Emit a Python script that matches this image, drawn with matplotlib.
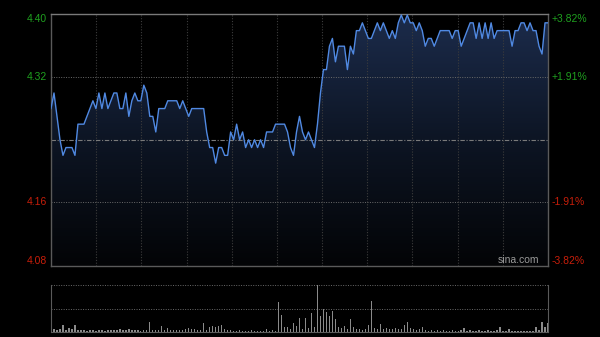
import numpy as np
import matplotlib.pyplot as plt
from matplotlib.colors import LinearSegmentedColormap

# 昨收价与分时数据（单位：分），每个点约两分钟
prev_close = 4.24
price_cents = [
    428, 430, 427, 424, 422, 423, 423, 423, 422, 426,
    426, 426, 427, 428, 429, 428, 430, 428, 430, 428,
    429, 430, 430, 428, 428, 430, 427, 429, 430, 429,
    429, 431, 430, 427, 427, 425, 428, 428, 428, 429,
    429, 429, 429, 428, 429, 428, 427, 428, 428, 428,
    428, 428, 425, 423, 423, 421, 423, 423, 422, 422,
    425, 424, 426, 424, 425, 423, 424, 423, 424, 423,
    424, 423, 425, 425, 425, 426, 426, 426, 426, 425,
    423, 422, 425, 427, 425, 424, 425, 424, 423, 426,
    430, 433, 433, 436, 437, 434, 436, 436, 436, 433,
    436, 435, 438, 438, 439, 438, 437, 437, 438, 439,
    438, 439, 438, 437, 438, 437, 439, 440, 439, 440,
    439, 439, 438, 439, 438, 436, 437, 437, 436, 437,
    438, 438, 438, 438, 437, 438, 438, 436, 437, 438,
    439, 439, 437, 439, 437, 439, 437, 439, 437, 438,
    438, 438, 438, 438, 436, 438, 438, 439, 439, 438,
    439, 438, 438, 436, 435, 439, 439,
]
volume = [
    2, 3, 2, 3, 7, 2, 4, 3, 7, 2,
    2, 2, 1, 2, 2, 1, 2, 2, 1, 2,
    2, 2, 2, 3, 2, 2, 3, 2, 2, 2,
    1, 2, 2, 10, 2, 2, 2, 6, 2, 4,
    2, 2, 2, 2, 2, 3, 4, 3, 3, 2,
    2, 9, 2, 5, 6, 5, 6, 7, 3, 2,
    2, 1, 1, 2, 1, 1, 1, 2, 1, 1,
    1, 1, 3, 1, 2, 1, 30, 17, 5, 5,
    3, 9, 6, 14, 3, 14, 4, 19, 5, 47,
    16, 23, 20, 16, 21, 13, 5, 4, 6, 3,
    13, 5, 3, 3, 2, 3, 7, 31, 4, 3,
    8, 3, 4, 3, 3, 4, 3, 3, 7, 10,
    4, 3, 2, 3, 5, 2, 1, 2, 1, 2,
    1, 2, 1, 1, 2, 1, 1, 2, 4, 1,
    2, 1, 1, 2, 1, 1, 2, 1, 1, 2,
    5, 1, 1, 3, 1, 1, 1, 1, 1, 1,
    1, 1, 5, 2, 10, 5, 9,
]
price_ticks = [4.40, 4.32, 4.16, 4.08]
pct_labels = ['+3.82%', '+1.91%', '-1.91%', '-3.82%']

price = np.array(price_cents) / 100.0
t = np.linspace(0, 330, len(price))
lo, hi = prev_close * (1 - 0.0382), prev_close * (1 + 0.0382)

plt.rcParams['font.family'] = ['Liberation Sans', 'DejaVu Sans']
fig = plt.figure(figsize=(6, 3.37), dpi=100, facecolor='#000000')

# 价格主图
ax = fig.add_axes([51 / 600, 1 - 266 / 337, 497 / 600, 252.5 / 337])
ax.set_facecolor('#000000')
ax.set_xlim(0, 330)
ax.set_ylim(lo, hi)

# 网格线画在填充之上、价格线之下
for m in range(30, 330, 30):
    ax.axvline(m, color='#3c3c3c', lw=0.8, ls=(0, (1, 1.5)), zorder=2.5)
for p in (4.32, 4.16):
    ax.axhline(p, color='#6a6a6a', lw=0.7, ls=(0, (1, 1.5)), zorder=2.5)
ax.axhline(prev_close, color='#7a7a7a', lw=0.8, ls=(0, (4, 1.5, 1, 1.5)), zorder=2.5)

# 渐变填充
cmap = LinearSegmentedColormap.from_list('fill', ['#030406', '#0d1524', '#1c2c4c'])
poly = ax.fill_between(t, price, lo, color='none', lw=0)
grad = np.linspace(0, 1, 256).reshape(-1, 1)
im = ax.imshow(grad, cmap=cmap, aspect='auto', origin='lower',
               extent=[0, 330, lo, hi], zorder=2)
path = poly.get_paths()[0]
im.set_clip_path(path, transform=ax.transData)

ax.plot(t, price, color='#5089e2', lw=1.0, zorder=3)

ax.set_xticks([])
ax.set_yticks([])
for s in ax.spines.values():
    s.set_color('#5a5a5a')
    s.set_linewidth(1.0)
ax.spines['top'].set_color('#7a7a7a')

for p, lab in zip(price_ticks, pct_labels):
    col = '#1fa01f' if p > prev_close else '#c81e0a'
    va = 'top' if p == price_ticks[0] else ('bottom' if p == price_ticks[-1] else 'center')
    y = hi if va == 'top' else (lo if va == 'bottom' else p)
    ax.text(-0.008, y, f'{p:.2f}', transform=ax.get_yaxis_transform(),
            ha='right', va=va, color=col, fontsize=7.5)
    ax.text(1.008, y, lab, transform=ax.get_yaxis_transform(),
            ha='left', va=va, color=col, fontsize=7.5)

ax.text(0.94, 0.004, 'sina.com', transform=ax.transAxes, ha='center', va='bottom',
        color='#9a9a9a', fontsize=7.5, zorder=4)

# 成交量副图
axv = fig.add_axes([51 / 600, 1 - 332 / 337, 497 / 600, 47 / 337])
axv.set_facecolor('#000000')
axv.set_xlim(0, 330)
axv.set_ylim(0, max(volume))
axv.bar(t, volume, width=0.9, color='#8a8a8a', zorder=2)
for v in (max(volume), max(volume) / 2):
    axv.axhline(v, color='#6a6a6a', lw=0.7, ls=(0, (1, 1.5)), zorder=1)
axv.set_xticks([])
axv.set_yticks([])
for s in axv.spines.values():
    s.set_color('#5a5a5a')
axv.spines['top'].set_visible(False)

fig.savefig('out.png', dpi=100, facecolor=fig.get_facecolor())
